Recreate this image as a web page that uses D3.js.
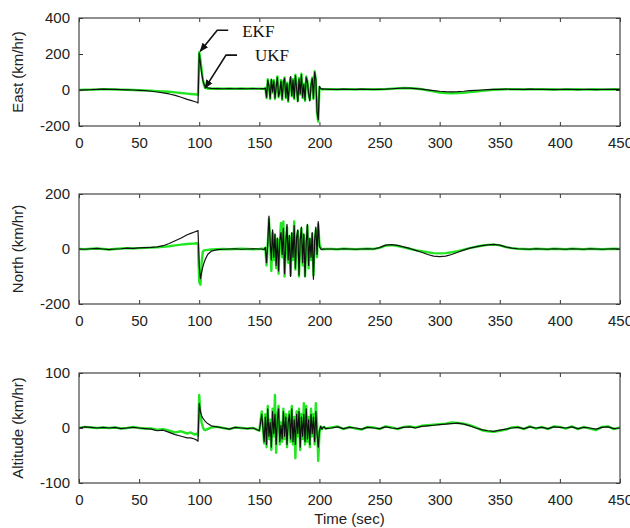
<!DOCTYPE html>
<html>
<head>
<meta charset="utf-8">
<script src="https://cdn.jsdelivr.net/npm/d3@7"></script>
<style>
  html, body { margin: 0; padding: 0; background: #ffffff; }
  svg { display: block; }
</style>
</head>
<body>
<script>
// ---------------- DATA ----------------
const time = [0,5,10,15,20,25,30,35,40,45,50,55,60,65,70,75,80,85,90,
  93,96,98,99,100,101,102,103,104,105,107,110,
  115,120,125,130,135,140,145,150,
  152,154,
  155,156,157,158,159,160,161,162,163,164,165,166,167,168,169,170,171,172,173,174,
  175,176,177,178,179,180,181,182,183,184,185,186,187,188,189,190,191,192,193,194,
  195,196,197,198,199,200,201,202,203,204,205,
  210,215,220,225,230,235,240,245,250,255,260,265,270,275,280,285,290,295,300,305,
  310,315,320,325,330,335,340,345,350,355,360,365,370,375,380,385,390,395,400,405,
  410,415,420,425,430,435,440,445,450];

const eastEKF = [0,1,2,4,5,4,3,2,1,0,-2,-4,-7,-11,-16,-22,-30,-40,-52,
  -58,-64,-68,-72,205,150,95,55,32,20,12,9,
  8,7,8,7,8,7,8,7,
  8,6,
  10,-40,55,20,-45,60,-10,50,-45,15, 70,-35,-10,50,-50,40,65,-40,35,-60,
  20,75,-30,55,-45,80,10,-65,60,-20, 85,-40,30,-55,70,45,-20,-60,25,65,
  -45,100,60,-120,-165,20,8,5,6,5, 5,
  4,3,5,4,3,5,4,3,4,5, 7,9,11,10,8,5,1,-3,-7,-9,
  -10,-9,-7,-4,-2,0,2,3,4,5, 4,3,4,5,4,3,4,2,4,3,
  4,2,3,4,2,3,4,3,3];
const eastUKF = [0,1,2,3,5,4,3,2,1,0,-1,-2,-4,-6,-8,-10,-13,-17,-20,
  -22,-24,-25,-27,210,170,110,60,25,12,8,7,
  8,7,8,7,8,7,8,7,
  7,6,
  12,-45,60,25,-50,55,-15,55,-50,20, 75,-40,-15,55,-55,45,70,-45,40,-65,
  25,70,-35,60,-50,85,15,-60,65,-25, 90,-45,35,-60,75,50,-25,-55,30,70,
  -50,105,55,-130,-175,15,6,4,5,4, 4,
  4,3,5,4,3,5,4,3,4,5, 7,9,11,10,8,4,-2,-8,-14,-17,
  -18,-17,-15,-12,-8,-4,-1,1,3,4, 5,4,3,4,5,4,3,4,2,4,
  3,4,2,3,4,2,3,4,3];

const northEKF = [0,-1,1,2,0,-2,0,1,3,2,4,5,6,8,12,20,30,40,52,
  57,62,65,67,-60,-108,-85,-65,-50,-38,-20,-8,
  -2,-1,0,1,-1,0,1,0,
  0,-2,
  5,-50,20,120,30,-40,70,-30,55,-60, 40,-80,30,60,-20,75,-90,20,90,-40,
  50,-100,60,-30,85,-70,40,70,-95,30, 80,-50,55,-100,20,90,-60,40,-30,60,
  -110,30,80,-20,100,10,0,-2,0,-1, 0,
  0,-1,1,0,-1,0,1,0,5,14, 16,13,8,2,-5,-12,-20,-26,-28,-26,
  -20,-12,-4,3,8,12,15,17,14,8, 3,1,0,-1,1,0,-1,1,0,-1,
  1,0,-1,1,0,-1,0,1,0];
const northUKF = [0,-1,1,2,0,-2,0,2,3,2,3,4,5,6,8,10,13,16,18,
  19,20,21,20,-120,-130,-50,-10,-5,-4,-3,-2,
  -1,0,-1,0,1,0,-1,0,
  1,-1,
  5,-60,15,110,20,-80,60,-40,50,-70, 35,-90,25,95,-30,100,-100,15,80,-50,
  45,-95,55,-40,100,-75,35,65,-100,25, 75,-60,50,-100,15,85,-70,35,-40,55,
  -95,25,70,-30,90,20,5,0,-1,0, 0,
  0,-1,1,0,-1,0,1,0,4,12, 14,11,6,1,-4,-8,-12,-15,-16,-15,
  -12,-8,-2,3,8,12,15,16,13,7, 3,1,0,-1,1,0,-1,1,0,-1,
  1,0,-1,1,0,-1,0,1,0];

const altEKF = [0,2,1,0,1,0,1,-1,0,1,0,-1,-2,-5,-4,-8,-12,-15,-18,
  -18,-20,-22,-24,45,30,22,18,15,12,8,4,
  2,0,-2,1,0,-1,0,-5,
  25,-25,
  20,-30,35,-15,10,-35,30,-10,25,-30, 15,35,-25,5,-20,30,-15,20,-30,10,
  25,-20,35,-25,15,-30,25,-10,30,-35, 20,-15,25,-25,35,-20,15,-30,25,-10,
  20,-25,30,-10,-35,-5,3,-2,1,2, -1,
  0,2,-1,1,0,-2,1,0,-1,2, 0,-1,1,2,0,3,4,5,6,7,
  8,9,7,4,0,-3,-5,-6,-4,-2, 0,1,-1,2,0,1,-1,2,1,0,
  2,-1,1,0,-2,1,2,-1,0];
const altUKF = [0,2,1,0,1,0,1,-1,0,2,0,-1,-1,-3,-2,-5,-8,-6,-10,
  -8,-12,-10,-14,60,25,10,2,-3,-4,-2,1,
  2,0,-2,1,0,-1,0,-5,
  30,-28,
  25,-35,40,-20,15,-40,35,-15,60,-45, 20,40,-30,10,-25,35,-20,25,-35,15,
  30,-25,40,-30,20,-55,30,-15,35,-40, 25,-20,45,-30,40,-25,20,-35,35,-15,
  25,-30,45,10,-60,-10,3,-2,1,2, -1,
  1,3,-2,2,-1,-3,2,1,-2,3, 1,-2,2,3,1,4,5,6,7,8,
  10,9,8,5,1,-4,-6,-7,-5,-3, 1,2,-2,3,-1,2,-2,3,2,-1,
  3,-2,2,-1,-4,2,3,-2,1];

const xTicks = [0,50,100,150,200,250,300,350,400,450];
const eastTicks = [-200,0,200,400];
const northTicks = [-200,0,200];
const altTicks = [-100,0,100];
const yLabels = ["East (km/hr)","North (km/hr)","Altitude (km/hr)"];
const xLabel = "Time (sec)";
const annotations = [{text:"EKF", t:100, v:210}, {text:"UKF", t:104, v:5}];

// ---------------- DRAWING ----------------
const W = 630, H = 528;
const svg = d3.select("body").append("svg").attr("width", W).attr("height", H);
const font = "'Liberation Sans', Arial, Helvetica, sans-serif";

svg.append("defs").append("marker")
  .attr("id","arrow").attr("viewBox","0 0 10 10").attr("refX",9).attr("refY",5)
  .attr("markerWidth",9).attr("markerHeight",9).attr("markerUnits","userSpaceOnUse")
  .attr("orient","auto")
  .append("path").attr("d","M0,1 L10,5 L0,9 Z").attr("fill","#111");

const x = d3.scaleLinear().domain([0,450]).range([79,620]);

const panels = [
  {label: yLabels[0], top: 18, bottom: 126, domain:[-200,400], ticks: eastTicks, ekf: eastEKF, ukf: eastUKF},
  {label: yLabels[1], top: 194, bottom: 304, domain:[-200,200], ticks: northTicks, ekf: northEKF, ukf: northUKF},
  {label: yLabels[2], top: 373, bottom: 483, domain:[-100,100], ticks: altTicks, ekf: altEKF, ukf: altUKF}
];

const scales = [];
panels.forEach((p, i) => {
  const y = d3.scaleLinear().domain(p.domain).range([p.bottom, p.top]);
  scales.push(y);
  const g = svg.append("g");

  const clipId = "clip" + i;
  svg.append("clipPath").attr("id", clipId).append("rect")
    .attr("x", x(0)).attr("y", p.top).attr("width", x(450) - x(0)).attr("height", p.bottom - p.top);

  const line = d3.line().x((d, k) => x(time[k])).y(d => y(d));
  const lg = g.append("g").attr("clip-path", `url(#${clipId})`);
  lg.append("path").datum(p.ukf).attr("d", line)
    .attr("fill","none").attr("stroke","#22e622").attr("stroke-width",2.4)
    .attr("stroke-linejoin","round");
  lg.append("path").datum(p.ekf).attr("d", line)
    .attr("fill","none").attr("stroke","#111").attr("stroke-width",1.2)
    .attr("stroke-linejoin","round");

  // axes (inward ticks)
  const styleAxis = sel => {
    sel.select(".domain").remove();
    sel.selectAll(".tick line").attr("stroke","#333").attr("stroke-width",1);
    sel.selectAll(".tick text").attr("fill","#222").style("font-family", font).style("font-size","15px");
  };
  g.append("g").attr("transform",`translate(0,${p.bottom})`)
    .call(d3.axisBottom(x).tickValues(xTicks).tickSize(-4).tickSizeOuter(0).tickPadding(11).tickFormat(d3.format("d")))
    .call(styleAxis);
  g.append("g").attr("transform",`translate(0,${p.top})`)
    .call(d3.axisTop(x).tickValues(xTicks).tickSize(-4).tickSizeOuter(0).tickFormat(""))
    .call(styleAxis);
  g.append("g").attr("transform",`translate(${x(0)},0)`)
    .call(d3.axisLeft(y).tickValues(p.ticks).tickSize(-4).tickSizeOuter(0).tickPadding(9).tickFormat(d => String(d)))
    .call(styleAxis);
  g.append("g").attr("transform",`translate(${x(450)},0)`)
    .call(d3.axisRight(y).tickValues(p.ticks).tickSize(-4).tickSizeOuter(0).tickFormat(""))
    .call(styleAxis);

  // frame
  g.append("rect").attr("x", x(0)).attr("y", p.top)
    .attr("width", x(450) - x(0)).attr("height", p.bottom - p.top)
    .attr("fill","none").attr("stroke","#444").attr("stroke-width",1.2);

  // y label
  g.append("text")
    .attr("transform", `translate(23,${(p.top + p.bottom) / 2}) rotate(-90)`)
    .attr("text-anchor","middle")
    .style("font-family", font).style("font-size","15px").attr("fill","#222")
    .text(p.label);
});

// x label
svg.append("text").attr("x", (x(0) + x(450)) / 2).attr("y", 524)
  .attr("text-anchor","middle")
  .style("font-family", font).style("font-size","15px").attr("fill","#222")
  .text(xLabel);

// annotations on the East panel
const yE = scales[0];
const ann = [
  {a: annotations[0], dx1: 18, dy1: -22, tx: 43, ty: -15},
  {a: annotations[1], dx1: 22, dy1: -34, tx: 51, ty: -28}
];
ann.forEach(o => {
  const px = x(o.a.t), py = yE(o.a.v);
  const sx = px + o.dx1, sy = py + o.dy1;
  svg.append("path")
    .attr("d", `M${sx + 11},${sy} L${sx},${sy} L${px + 1},${py - 1}`)
    .attr("fill","none").attr("stroke","#111").attr("stroke-width",1.6)
    .attr("marker-end","url(#arrow)");
  svg.append("text").attr("x", px + o.tx).attr("y", py + o.ty)
    .style("font-family","'Liberation Serif', 'Times New Roman', serif")
    .style("font-size","17px").attr("fill","#111")
    .text(o.a.text);
});
</script>
</body>
</html>
